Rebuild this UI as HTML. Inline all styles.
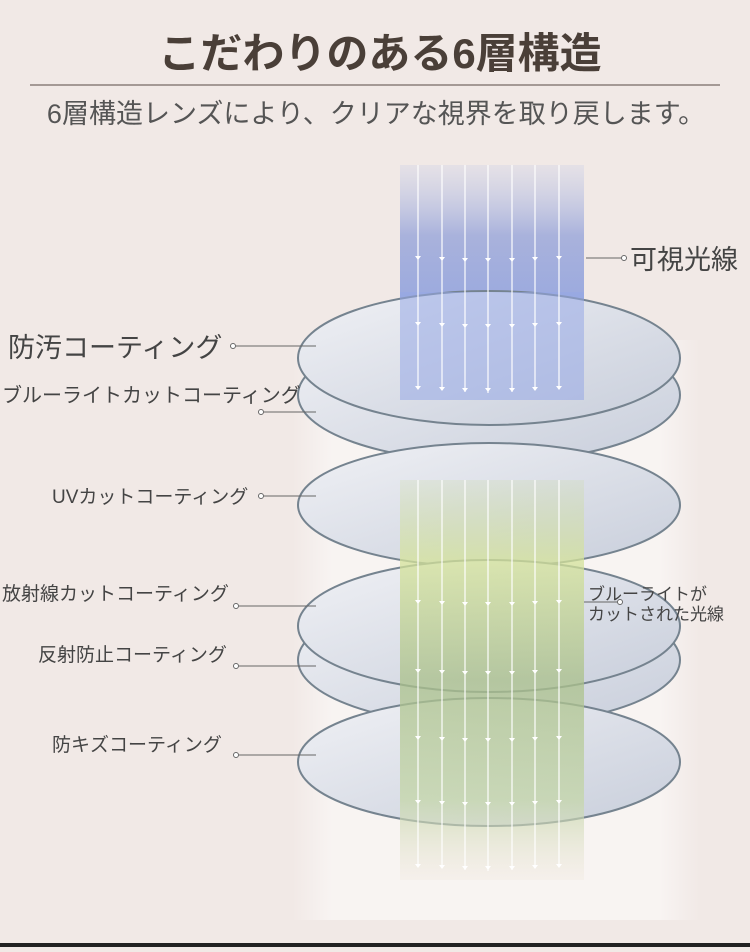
<!DOCTYPE html>
<html><head><meta charset="utf-8"><style>
body{margin:0;width:750px;height:947px;overflow:hidden;background:#f1e9e6;font-family:"Liberation Sans","Noto Sans CJK JP",sans-serif}
</style></head><body>
<svg width="750" height="947" viewBox="0 0 750 947" xmlns="http://www.w3.org/2000/svg">
<defs>
<linearGradient id="blue" x1="0" y1="0" x2="0" y2="1">
<stop offset="0" stop-color="#c8cde6" stop-opacity="0.3"/>
<stop offset="0.3" stop-color="#a9b2dc"/>
<stop offset="0.7" stop-color="#95a6df"/>
<stop offset="1" stop-color="#b9c4e6" stop-opacity="0.6"/>
</linearGradient>
<linearGradient id="green" x1="0" y1="0" x2="0" y2="1">
<stop offset="0" stop-color="#c8d8a0" stop-opacity="0.3"/>
<stop offset="0.2" stop-color="#d5e39a"/>
<stop offset="0.5" stop-color="#aac08a"/>
<stop offset="0.8" stop-color="#c4d6a8"/>
<stop offset="1" stop-color="#efe6da" stop-opacity="0.4"/>
</linearGradient>
<linearGradient id="disc" x1="0" y1="0" x2="1" y2="1">
<stop offset="0" stop-color="#f0f1f5"/>
<stop offset="1" stop-color="#c8cedb"/>
</linearGradient>
<linearGradient id="pillar" x1="0" y1="0" x2="1" y2="0">
<stop offset="0" stop-color="#fff" stop-opacity="0"/>
<stop offset="0.1" stop-color="#fff" stop-opacity="0.5"/>
<stop offset="0.9" stop-color="#fff" stop-opacity="0.5"/>
<stop offset="1" stop-color="#fff" stop-opacity="0"/>
</linearGradient>
<g id="row" fill="#fff"><path d="M415 0h6l-3 4z"/><path d="M439 1h6l-3 4z"/><path d="M462 2h6l-3 4z"/><path d="M485 2h6l-3 4z"/><path d="M509 2h6l-3 4z"/><path d="M532 1h6l-3 4z"/><path d="M556 0h6l-3 4z"/></g>
</defs>
<text x="380" y="68" text-anchor="middle" font-size="42" font-weight="bold" fill="#4a3f38">こだわりのある6層構造</text>
<line x1="30" y1="85" x2="720" y2="85" stroke="#8a7f7a" stroke-width="1.5"/>
<text x="376" y="123" text-anchor="middle" font-size="27" fill="#555">6層構造レンズにより、クリアな視界を取り戻します。</text>
<rect x="292" y="340" width="408" height="580" fill="url(#pillar)"/>
<rect x="400" y="165" width="184" height="235" fill="url(#blue)"/>
<g stroke="#75838f" stroke-width="2">
<ellipse cx="489" cy="395" rx="191" ry="67" fill="url(#disc)"/>
<ellipse cx="489" cy="358" rx="191" ry="67" fill="url(#disc)"/>
</g>
<rect x="400" y="292" width="184" height="108" fill="#95a8e6" opacity="0.55"/>
<g stroke="#75838f" stroke-width="2">
<ellipse cx="489" cy="505" rx="191" ry="62" fill="url(#disc)"/>
<ellipse cx="489" cy="660" rx="191" ry="66" fill="url(#disc)"/>
<ellipse cx="489" cy="626" rx="191" ry="66" fill="url(#disc)"/>
<ellipse cx="489" cy="762" rx="191" ry="64" fill="url(#disc)"/>
</g>
<rect x="400" y="480" width="184" height="400" fill="url(#green)" opacity="0.75"/>
<g stroke="#fff" stroke-width="1.3" opacity="0.9">
<line x1="418" y1="165" x2="418" y2="388"/><line x1="442" y1="165" x2="442" y2="390"/><line x1="465" y1="165" x2="465" y2="392"/><line x1="488" y1="165" x2="488" y2="393"/><line x1="512" y1="165" x2="512" y2="392"/><line x1="535" y1="165" x2="535" y2="390"/><line x1="559" y1="165" x2="559" y2="388"/>
<line x1="418" y1="480" x2="418" y2="866"/><line x1="442" y1="480" x2="442" y2="868"/><line x1="465" y1="480" x2="465" y2="870"/><line x1="488" y1="480" x2="488" y2="871"/><line x1="512" y1="480" x2="512" y2="870"/><line x1="535" y1="480" x2="535" y2="868"/><line x1="559" y1="480" x2="559" y2="866"/>
</g>
<use href="#row" y="256"/><use href="#row" y="322"/><use href="#row" y="386"/>
<use href="#row" y="600"/><use href="#row" y="669"/><use href="#row" y="736"/><use href="#row" y="800"/><use href="#row" y="864"/>
<g stroke="#666" stroke-width="1" fill="none">
<line x1="586" y1="258" x2="622" y2="258"/><circle cx="624" cy="258" r="2.5" fill="#fff"/>
<circle cx="233" cy="346" r="2.5" fill="#fff"/><line x1="236" y1="346" x2="316" y2="346"/>
<circle cx="261" cy="412" r="2.5" fill="#fff"/><line x1="264" y1="412" x2="316" y2="412"/>
<circle cx="261" cy="496" r="2.5" fill="#fff"/><line x1="264" y1="496" x2="316" y2="496"/>
<circle cx="236" cy="606" r="2.5" fill="#fff"/><line x1="239" y1="606" x2="316" y2="606"/>
<circle cx="236" cy="666" r="2.5" fill="#fff"/><line x1="239" y1="666" x2="316" y2="666"/>
<circle cx="236" cy="755" r="2.5" fill="#fff"/><line x1="239" y1="755" x2="316" y2="755"/>
<line x1="584" y1="602" x2="618" y2="602"/><circle cx="620" cy="602" r="2.5" fill="#fff"/>
</g>
<g fill="#444">
<text x="630" y="269" font-size="27">可視光線</text>
<text x="8" y="357" font-size="27">防汚コーティング</text>
<text x="2" y="402" font-size="20">ブルーライトカットコーティング</text>
<text x="52" y="503" font-size="19">UVカットコーティング</text>
<text x="2" y="600" font-size="19">放射線カットコーティング</text>
<text x="38" y="661" font-size="19">反射防止コーティング</text>
<text x="52" y="751" font-size="19">防キズコーティング</text>
<text x="588" y="600" font-size="17">ブルーライトが</text>
<text x="588" y="620" font-size="17">カットされた光線</text>
</g>
<rect x="0" y="943" width="750" height="4" fill="#222"/>
</svg>
</body></html>
